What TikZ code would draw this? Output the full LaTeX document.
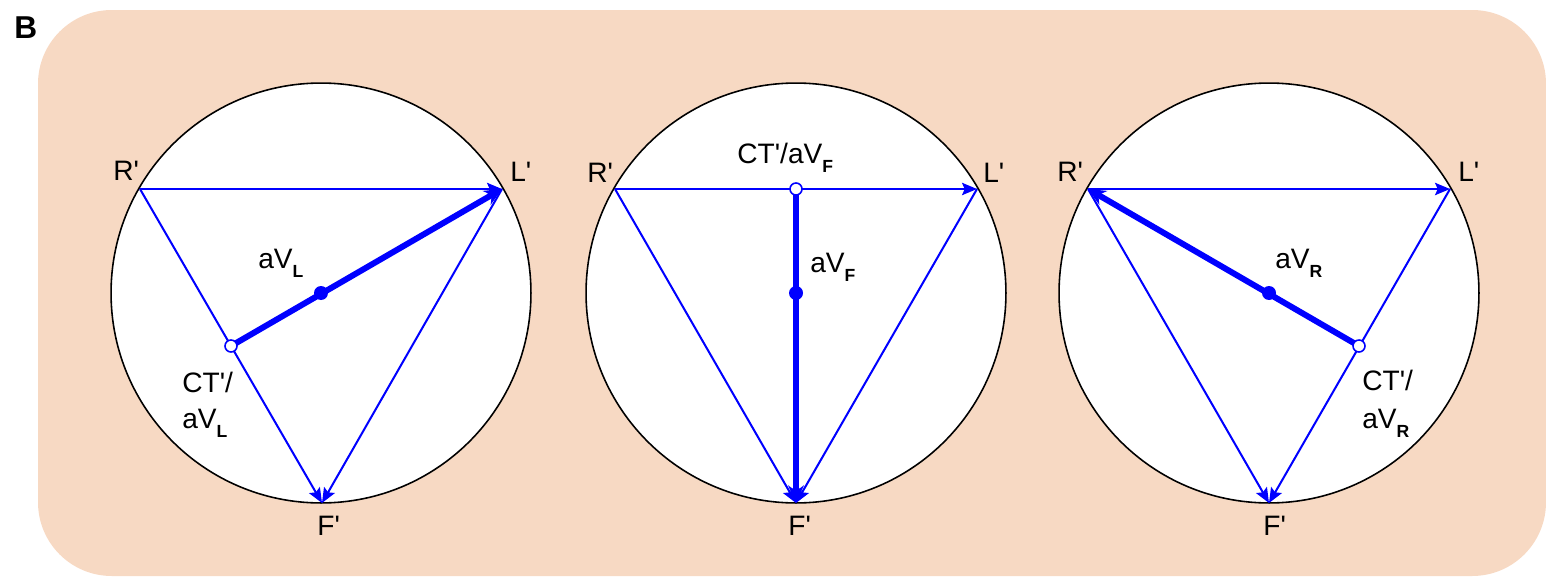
\documentclass[tikz,border=0pt]{standalone}
\usepackage{fontspec}
\setmainfont{Liberation Sans}
\usetikzlibrary{arrows.meta}
\definecolor{peach}{RGB}{247,217,195}
\definecolor{vblue}{RGB}{0,0,255}
\newcommand{\sbt}[1]{\raisebox{-5.5pt}{\fontsize{10}{10}\selectfont\bfseries #1}}
\newcommand{\ap}{\textquotesingle}
\tikzset{
  bg/.style={fill=peach, draw=none, rounded corners=42pt},
  disc/.style={fill=white, draw=black, line width=0.9pt},
  thin/.style={draw=vblue, line width=1.15pt, -{Stealth[length=8.5pt,width=7pt,inset=1.5pt]}},
  thick/.style={draw=vblue, line width=3.4pt, -{Stealth[length=10pt,width=9pt]}},
  dotf/.style={fill=vblue, draw=none},
  doto/.style={fill=white, draw=vblue, line width=0.9pt},
  lbl/.style={anchor=base west, inner sep=0pt, font=\fontsize{16}{18}\selectfont},
}
\begin{document}
\begin{tikzpicture}[x=0.02cm, y=-0.02cm]
\useasboundingbox (0,0) rectangle (1546,578);
\fill[bg] (38,10) rectangle (1546,576);
\node[anchor=base west, inner sep=0pt, font=\fontsize{18}{20}\selectfont\bfseries] (B) at (14,38) {B};

% ---------- left ----------
\coordinate (O1) at (321,293);
\coordinate (R1) at (140,189);
\coordinate (L1) at (502,189);
\coordinate (F1) at (322,503);
\coordinate (C1) at (231,346);
\draw[disc] (O1) circle[radius=4.2cm];
\draw[thin] (R1) -- (L1);
\draw[thin] (R1) -- (F1);
\draw[thin] (L1) -- (F1);
\draw[thick] (C1) -- (L1);
\fill[dotf] (O1) circle[radius=0.14cm];
\draw[doto] (C1) circle[radius=0.12cm];
\node[lbl] (r1) at (113,180) {R\ap};
\node[lbl] (l1) at (510,181) {L\ap};
\node[lbl] (f1) at (317,535) {F\ap};
\node[lbl] (v1) at (258,268) {aV\sbt{L}};
\node[lbl] (c1a) at (182,392) {CT\ap/};
\node[lbl] (c1b) at (182,428) {aV\sbt{L}};

% ---------- middle ----------
\coordinate (O2) at (796,293);
\coordinate (R2) at (615,189);
\coordinate (L2) at (977,189);
\coordinate (F2) at (796,503);
\coordinate (C2) at (796,189);
\draw[disc] (O2) circle[radius=4.2cm];
\draw[thin] (R2) -- (L2);
\draw[thin] (R2) -- (F2);
\draw[thin] (L2) -- (F2);
\draw[thick] (C2) -- (F2);
\fill[dotf] (O2) circle[radius=0.14cm];
\draw[doto] (C2) circle[radius=0.12cm];
\node[lbl] (r2) at (587,182) {R\ap};
\node[lbl] (l2) at (983,182) {L\ap};
\node[lbl] (f2) at (788,535) {F\ap};
\node[lbl] (c2) at (737,163) {CT\ap/aV\sbt{F}};
\node[lbl] (v2) at (810,272) {aV\sbt{F}};

% ---------- right ----------
\coordinate (O3) at (1269,293);
\coordinate (R3) at (1088,189);
\coordinate (L3) at (1450,189);
\coordinate (F3) at (1269,503);
\coordinate (C3) at (1359,346);
\draw[disc] (O3) circle[radius=4.2cm];
\draw[thin] (R3) -- (L3);
\draw[thin] (R3) -- (F3);
\draw[thin] (L3) -- (F3);
\draw[thick] (C3) -- (R3);
\fill[dotf] (O3) circle[radius=0.14cm];
\draw[doto] (C3) circle[radius=0.12cm];
\node[lbl] (r3) at (1057,181) {R\ap};
\node[lbl] (l3) at (1458,181) {L\ap};
\node[lbl] (f3) at (1263,535) {F\ap};
\node[lbl] (v3) at (1275,268) {aV\sbt{R}};
\node[lbl] (c3a) at (1362,390) {CT\ap/};
\node[lbl] (c3b) at (1362,428) {aV\sbt{R}};
\end{tikzpicture}
\end{document}
